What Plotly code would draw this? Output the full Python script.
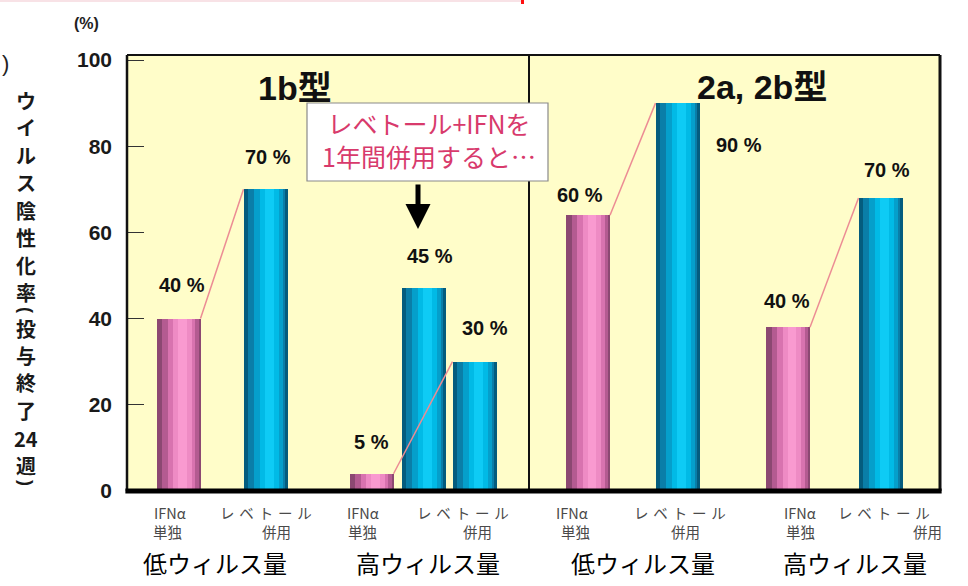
import plotly.graph_objects as go

# ---------------- data ----------------
treatment = ["IFN", "REB", "IFN", "REB", "REB", "IFN", "REB", "IFN", "REB"]
values = [40, 70, 4, 47, 30, 64, 90, 38, 68]
value_text = ["40 %", "70 %", "5 %", "45 %", "30 %", "60 %", "90 %", "40 %", "70 %"]
genotype_titles = ["1b型", "2a, 2b型"]
load_labels = ["低ウィルス量", "高ウィルス量", "低ウィルス量", "高ウィルス量"]
xlab_row1 = ["IFNα", "レ\u2004ベ\u2004ト\u2004ー\u2004ル", "IFNα", "レ\u2004ベ\u2004ト\u2004ー\u2004ル",
             "IFNα", "レ\u2004ベ\u2004ト\u2004ー\u2004ル", "IFNα", "レ\u2004ベ\u2004ト\u2004ー\u2004ル"]
xlab_row2 = ["単独", "併用", "単独", "併用", "単独", "併用", "単独", "併用"]
connect_pairs = [(0, 1), (2, 4), (5, 6), (7, 8)]
y_ticks = [0, 20, 40, 60, 80, 100]
callout_lines = ["レベトール+IFNを", "1年間併用すると…"]
# y-axis title "ウイルス陰性化率（投与終了24週）", written top to bottom
ytitle_part1 = ["ウ", "イ", "ル", "ス", "陰", "性", "化", "率"]
ytitle_part2 = ["投", "与", "終", "了", "24", "週"]
ytitle_brackets = ["(", ")"]

# ---------------- layout geometry ----------------
W, H = 968, 586
L, R, T, B = 127, 940, 55, 491
PW, PH = R - L, B - T
PX_PER = 4.31
YMAX = PH / PX_PER

def px(x):
    return (x - L) / PW

def py(y):
    return (B - y) / PH

X_POS = [51.5, 138.5, 244.5, 296.5, 347.5, 461.0, 550.5, 661.0, 753.5]
BAR_W = 44
LABEL_OFF = [(3, 34), (2, 32), (0, 32), (6, 32), (10, 34), (-8, 20), (61, -42), (-1, 26), (6, 28)]
XLAB_R1 = [170, 266, 363, 463, 572, 680, 800, 884]
XLAB_R2 = [167, 276, 362, 477, 575, 685, 800, 927]
LOAD_X = [215, 428, 643, 855]
TITLE_POS = [(295, 88), (762, 87)]

PINK_LAYERS = [(1.00, 0, "#8C4872"), (0.82, 2, "#B45B91"), (0.62, 3, "#D873AF"),
               (0.42, 4, "#EE8BC4"), (0.20, 4, "#F99AD0")]
CYAN_LAYERS = [(1.00, 0, "#045C7E"), (0.84, 1, "#0A7EA8"), (0.64, 3, "#059FCB"),
               (0.44, 4, "#01BAE6"), (0.22, 4, "#0ECBF5")]

fig = go.Figure()

for kind, layers in (("IFN", PINK_LAYERS), ("REB", CYAN_LAYERS)):
    idx = [i for i, t in enumerate(treatment) if t == kind]
    xs = [X_POS[i] for i in idx]
    ys = [values[i] for i in idx]
    for frac, shift, col in layers:
        w = BAR_W * frac
        fig.add_trace(go.Bar(
            x=xs, y=ys, width=[w] * len(xs), offset=[-w / 2 + shift] * len(xs),
            marker=dict(color=col, line=dict(width=0)),
            showlegend=False, hoverinfo="skip"))

for a, b in connect_pairs:
    fig.add_trace(go.Scatter(
        x=[X_POS[a] + BAR_W / 2, X_POS[b] - BAR_W / 2],
        y=[values[a], values[b]], mode="lines",
        line=dict(color="#EC8C94", width=1.5),
        showlegend=False, hoverinfo="skip"))

ann = []
NUM_FONT = dict(family="Liberation Sans, Arial", size=20, color="#111111")
for i, t in enumerate(value_text):
    dx, dy = LABEL_OFF[i]
    ann.append(dict(x=X_POS[i], y=values[i], xref="x", yref="y", text="<b>" + t + "</b>",
                    showarrow=False, xshift=dx, yshift=dy, font=NUM_FONT,
                    xanchor="center", yanchor="middle"))

for t, (x, y) in zip(genotype_titles, TITLE_POS):
    ann.append(dict(x=px(x), y=py(y), xref="paper", yref="paper", text="<b>" + t + "</b>",
                    showarrow=False, font=dict(family="Liberation Sans, Noto Sans CJK JP", size=34, color="#111"),
                    xanchor="center", yanchor="middle"))

SMALL = dict(family="Noto Sans CJK JP, Liberation Sans", size=14.5, color="#4a4a4a")
for t, x in zip(xlab_row1, XLAB_R1):
    ann.append(dict(x=px(x), y=py(512), xref="paper", yref="paper", text=t, showarrow=False,
                    font=SMALL, xanchor="center", yanchor="middle", borderpad=0))
for t, x in zip(xlab_row2, XLAB_R2):
    ann.append(dict(x=px(x), y=py(531), xref="paper", yref="paper", text=t, showarrow=False,
                    font=SMALL, xanchor="center", yanchor="middle", borderpad=0))
for t, x in zip(load_labels, LOAD_X):
    ann.append(dict(x=px(x), y=py(562), xref="paper", yref="paper", text=t, showarrow=False,
                    font=dict(family="Noto Sans CJK JP", size=24, color="#000"),
                    xanchor="center", yanchor="middle", borderpad=0))

# callout text (two lines in one block)
ann.append(dict(x=px(429), y=py(139), xref="paper", yref="paper", text="<br>".join(callout_lines),
                showarrow=False, font=dict(family="Noto Sans CJK JP", size=25, color="#D83A6C"),
                xanchor="center", yanchor="middle", align="center", borderpad=0))
# arrow
ann.append(dict(x=418 - L, y=(B - 229) / PX_PER, xref="x", yref="y", ax=0, ay=-46,
                axref="pixel", ayref="pixel", text="", showarrow=True,
                arrowhead=2, arrowsize=1.0, arrowwidth=5, arrowcolor="#000"))

# y-axis title (vertical, one glyph per row; brackets turned to vertical form)
YT_FONT = dict(family="Noto Sans CJK JP", size=20, color="#1a1a1a")
STEP = 27.5
for chars, top in ((ytitle_part1, 100), (ytitle_part2, 328)):
    for k, ch in enumerate(chars):
        ann.append(dict(x=px(26), y=py(top + k * STEP), xref="paper", yref="paper",
                        text="<b>" + ch + "</b>", showarrow=False,
                        font=YT_FONT, xanchor="center", yanchor="middle", borderpad=0))
for ch, yy in zip(ytitle_brackets, (310, 483)):
    ann.append(dict(x=px(26), y=py(yy), xref="paper", yref="paper",
                    text="<b>" + ch + "</b>", showarrow=False, textangle=90,
                    font=dict(family="Liberation Sans", size=18, color="#1a1a1a"),
                    xanchor="center", yanchor="middle", borderpad=0))
ann.append(dict(x=px(86), y=py(23), xref="paper", yref="paper", text="<b>(%)</b>",
                showarrow=False, font=dict(family="Liberation Sans", size=16, color="#222"),
                xanchor="center", yanchor="middle"))
ann.append(dict(x=px(6), y=py(63), xref="paper", yref="paper", text=")",
                showarrow=False, font=dict(family="Liberation Sans", size=22, color="#222"),
                xanchor="center", yanchor="middle"))

shapes = [
    dict(type="line", xref="paper", yref="paper", x0=px(529), x1=px(529), y0=0, y1=1,
         line=dict(color="#111", width=2)),
    dict(type="line", xref="paper", yref="paper", x0=0, x1=0, y0=0, y1=1, line=dict(color="#111", width=2.5)),
    dict(type="line", xref="paper", yref="paper", x0=0, x1=1, y0=1, y1=1, line=dict(color="#111", width=2)),
    dict(type="line", xref="paper", yref="paper", x0=1, x1=1, y0=0, y1=1, line=dict(color="#111", width=3)),
    dict(type="line", xref="paper", yref="paper", x0=-0.002, x1=1.002, y0=0, y1=0, line=dict(color="#000", width=5)),
    dict(type="rect", xref="paper", yref="paper", x0=px(307), x1=px(548), y0=py(181), y1=py(103),
         fillcolor="#FFFFFF", line=dict(color="#8A8A8A", width=1.2)),
    dict(type="line", xref="paper", yref="paper", x0=px(0), x1=px(521), y0=py(1), y1=py(1),
         line=dict(color="#F6D8DE", width=1.5)),
    dict(type="line", xref="paper", yref="paper", x0=px(522.5), x1=px(522.5), y0=py(0), y1=py(4),
         line=dict(color="#FF1010", width=3)),
]

fig.update_layout(
    width=W, height=H,
    margin=dict(l=L, r=W - R, t=T, b=H - B, pad=0),
    paper_bgcolor="#FFFFFF", plot_bgcolor="#FFFDC9",
    barmode="overlay", bargap=0, showlegend=False,
    annotations=ann, shapes=shapes,
    xaxis=dict(range=[0, PW], showticklabels=False, showgrid=False, zeroline=False,
               showline=False, ticks="", fixedrange=True),
    yaxis=dict(range=[0, YMAX], tickvals=y_ticks, ticktext=[str(v) for v in y_ticks],
               showgrid=False, zeroline=False, showline=False,
               ticks="inside", ticklen=17, tickwidth=1, tickcolor="#333",
               ticklabelstandoff=14,
               tickfont=dict(family="Liberation Sans, Arial", size=21, color="#1a1a1a", weight="bold"),
               fixedrange=True),
)

fig.write_html("out.html")
